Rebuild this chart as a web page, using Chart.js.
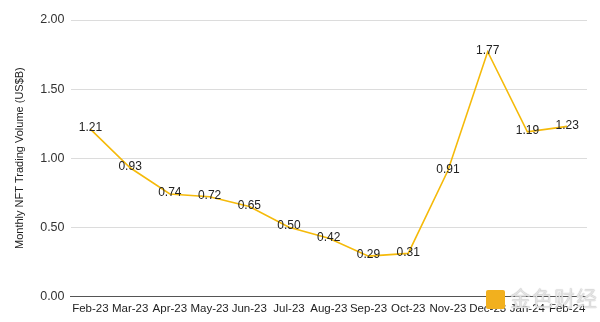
<!DOCTYPE html>
<html>
<head>
<meta charset="utf-8">
<script src="https://cdn.jsdelivr.net/npm/chart.js@4"></script>
<style>
  html, body { margin: 0; padding: 0; background: #fff; }
  #wrap { position: relative; width: 600px; height: 322px; }
  #mark {
    position: absolute; left: 486px; top: 282px;
    font-family: "Noto Sans CJK SC", sans-serif; font-size: 21px;
    color: rgba(238, 238, 238, 0.85); letter-spacing: 1px;
    text-shadow: 0 0 1px #999;
  }
  #mark span.icon {
    display: inline-block; width: 19px; height: 19px; margin-right: 5px;
    background: #f2b01e; vertical-align: -3px; border-radius: 2px;
  }
</style>
</head>
<body>
<div id="wrap">
  <canvas id="nftChart" width="600" height="322"></canvas>
  <div id="mark"><span class="icon"></span>金色财经</div>
</div>
<script>
// Monthly NFT trading volume, US$ billions
const months = ["Feb-23", "Mar-23", "Apr-23", "May-23", "Jun-23", "Jul-23", "Aug-23",
                "Sep-23", "Oct-23", "Nov-23", "Dec-23", "Jan-24", "Feb-24"];
const volume = [1.21, 0.93, 0.74, 0.72, 0.65, 0.50, 0.42, 0.29, 0.31, 0.91, 1.77, 1.19, 1.23];
const yTicks = [0, 0.5, 1.0, 1.5, 2.0];

// Draw value labels centred on each point
const pointLabels = {
  id: 'pointLabels',
  afterDatasetsDraw(chart) {
    const ctx = chart.ctx;
    const meta = chart.getDatasetMeta(0);
    ctx.save();
    ctx.font = '12px "Liberation Sans", Arial, sans-serif';
    ctx.fillStyle = '#222';
    ctx.textAlign = 'center';
    ctx.textBaseline = 'middle';
    meta.data.forEach((pt, i) => {
      ctx.fillText(volume[i].toFixed(2), pt.x, pt.y - 1);
    });
    ctx.restore();
  }
};

const ctx = document.getElementById('nftChart').getContext('2d');
new Chart(ctx, {
  type: 'line',
  data: {
    labels: months,
    datasets: [{
      label: 'Monthly NFT Trading Volume',
      data: volume,
      borderColor: '#F5BA0A',
      borderWidth: 1.6,
      pointRadius: 0,
      tension: 0,
      fill: false
    }]
  },
  options: {
    responsive: false,
    animation: false,
    layout: { padding: { top: 20, right: 13, bottom: 8, left: 9 } },
    plugins: {
      legend: { display: false },
      tooltip: { enabled: false }
    },
    scales: {
      x: {
        offset: true,
        grid: { display: false },
        border: { color: '#555', width: 1 },
        ticks: {
          color: '#222',
          font: { family: '"Liberation Sans", Arial, sans-serif', size: 11.5 },
          maxRotation: 0,
          autoSkip: false,
          padding: -2
        }
      },
      y: {
        min: 0,
        max: 2,
        afterBuildTicks: axis => { axis.ticks = yTicks.map(v => ({ value: v })); },
        grid: {
          color: ctx => ctx.tick.value === 0 ? '#555' : '#dcdcdc',
          drawTicks: false,
          lineWidth: 1
        },
        border: { display: false },
        ticks: {
          color: '#333',
          font: { family: '"Liberation Sans", Arial, sans-serif', size: 12.5 },
          padding: 6,
          callback: v => Number(v).toFixed(2)
        },
        title: {
          display: true,
          text: 'Monthly NFT Trading Volume (US$B)',
          color: '#222',
          font: { family: '"Liberation Sans", Arial, sans-serif', size: 11 },
          padding: { bottom: 8 }
        }
      }
    }
  },
  plugins: [pointLabels]
});
</script>
</body>
</html>
